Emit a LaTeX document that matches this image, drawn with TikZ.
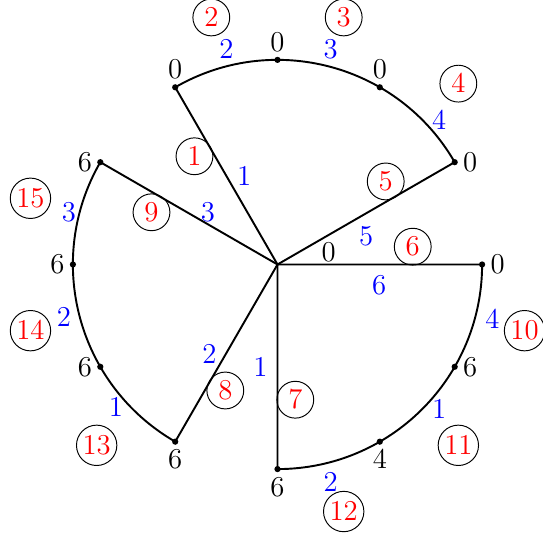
\documentclass[tikz,border=0pt]{standalone}
\usetikzlibrary{positioning}

\begin{document}
\begin{tikzpicture}[font=\large,
        wt/.style={text=blue},
        tag/.style={circle,draw,text=red,inner sep=1pt,minimum size=0.54cm}]
            \useasboundingbox (-4.069,-3.966) rectangle (3.893,3.878);

            \coordinate (O) at (0,0);
            \foreach \a/\P in {
                120/A,90/B,60/C,30/D,0/E,-30/F,-60/G,-90/H,-120/I,-150/J,180/K,150/L}{
                \coordinate (\P) at (\a:3);
            }

            % sectors
            \draw[thick] (O)--(A) arc[start angle=120,end angle=30,radius=3]--(O);
            \draw[thick] (O)--(E) arc[start angle=0,end angle=-90,radius=3]--(O);
            \draw[thick] (O)--(L) arc[start angle=150,end angle=240,radius=3]--(O);

            \foreach \P/\val/\pos in {
                A/0/above,B/0/above,C/0/above,D/0/right,E/0/right,F/6/right,
                G/4/below,H/6/below,I/6/below,J/6/left,K/6/left,L/6/left}{
                \fill (\P) circle (1.3pt);
                \node[\pos] (v\P) at (\P) {$\val$};
            }
            \node (vO) at (0.75,0.18) {$0$};

            % weights
            \foreach \x/\y/\w [count=\i] in {
                -0.49/1.29/1,-0.75/3.16/2,0.78/3.16/3,2.37/2.11/4,1.30/0.42/5,
                1.49/-0.31/6,3.15/-0.80/4,2.37/-2.12/1,0.78/-3.19/2,-0.25/-1.51/1,
                -1.00/-1.32/2,-2.37/-2.09/1,-3.13/-0.78/2,-3.06/0.76/3,-1.02/0.76/3}{
                \node[wt] (w\i) at (\x,\y) {$\w$};
            }

            % edge numbers
            \foreach \a/\r/\n in {
                127.5/2/1,105/3.75/2,75/3.75/3,45/3.75/4,37.5/2/5,7.5/2/6,
                -82.5/2/7,-112.5/2/8,157.5/2/9,-15/3.75/10,-45/3.75/11,
                -75/3.75/12,-135/3.75/13,-165/3.75/14,165/3.75/15}{
                \node[tag] (t\n) at (\a:\r) {$\n$};
            }
        \end{tikzpicture}
\end{document}
